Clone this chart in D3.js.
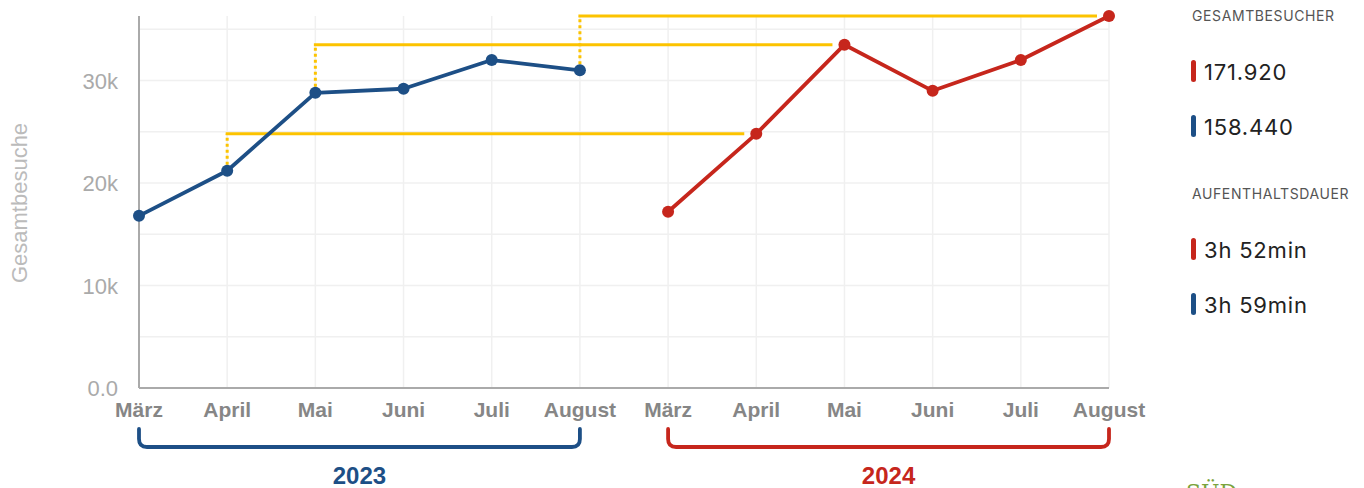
<!DOCTYPE html>
<html>
<head>
<meta charset="utf-8">
<script src="https://cdn.jsdelivr.net/npm/d3@7"></script>
<style>
  body { margin: 0; background: #fff; }
  svg { display: block; }
</style>
</head>
<body>
<script>
const months = ['März', 'April', 'Mai', 'Juni', 'Juli', 'August'];
const visits2023 = [16800, 21200, 28800, 29200, 32000, 31000];
const visits2024 = [17200, 24800, 33500, 29000, 32000, 36300];
// months with a yellow comparison line (2023 -> 2024 level)
const compareMonths = ['April', 'Mai', 'August'];
const yTicks = [0, 10000, 20000, 30000];
const legendVisitors = [['171.920', '2024'], ['158.440', '2023']];
const legendStay = [['3h 52min', '2024'], ['3h 59min', '2023']];

const colors = { '2023': '#1d4f86', '2024': '#c6261c' };
const yellow = '#fcc300';
const sans = 'Liberation Sans, Arial, sans-serif';

const width = 1364, height = 488;
const margin = { top: 16, left: 139, right: 255, bottom: 100 };

const svg = d3.select('body').append('svg')
  .attr('width', width)
  .attr('height', height);

const slots = months.map(m => '2023-' + m).concat(months.map(m => '2024-' + m));

const x = d3.scalePoint()
  .domain(slots)
  .range([margin.left, width - margin.right]);

const y = d3.scaleLinear()
  .domain([0, 36300])
  .range([height - margin.bottom, margin.top]);

// grid
const grid = svg.append('g').attr('stroke', '#f0f0f0').attr('stroke-width', 1.5);
grid.selectAll('line.h').data(d3.range(5000, 36000, 5000))
  .join('line')
  .attr('x1', margin.left).attr('x2', width - margin.right)
  .attr('y1', d => y(d)).attr('y2', d => y(d));
grid.selectAll('line.v').data(slots.slice(1))
  .join('line')
  .attr('x1', d => x(d)).attr('x2', d => x(d))
  .attr('y1', y.range()[1]).attr('y2', y(0));

// axes lines
svg.append('line')
  .attr('x1', margin.left).attr('x2', margin.left)
  .attr('y1', y.range()[1]).attr('y2', y(0))
  .attr('stroke', '#aaa').attr('stroke-width', 2);
svg.append('line')
  .attr('x1', margin.left).attr('x2', width - margin.right)
  .attr('y1', y(0)).attr('y2', y(0))
  .attr('stroke', '#aaa').attr('stroke-width', 2);

// y ticks
svg.append('g').selectAll('text').data(yTicks)
  .join('text')
  .attr('x', 118).attr('y', d => y(d) + 8)
  .attr('text-anchor', 'end')
  .attr('font-family', sans)
  .attr('font-size', 22)
  .attr('fill', '#aaa')
  .text(d => d === 0 ? '0.0' : d3.format('d')(d / 1000) + 'k');

svg.append('text')
  .attr('transform', 'translate(27,203) rotate(-90)')
  .attr('text-anchor', 'middle')
  .attr('font-family', sans)
  .attr('font-size', 22)
  .attr('fill', '#bbb')
  .text('Gesamtbesuche');

// x labels
svg.append('g').selectAll('text').data(slots)
  .join('text')
  .attr('x', d => x(d)).attr('y', 417)
  .attr('text-anchor', 'middle')
  .attr('font-family', sans)
  .attr('font-weight', 'bold')
  .attr('font-size', 21)
  .attr('fill', '#868686')
  .text(d => d.slice(5));

// yellow comparison lines
const cmp = svg.append('g').attr('stroke', yellow).attr('stroke-width', 3).attr('fill', 'none');
compareMonths.forEach(m => {
  const i = months.indexOf(m);
  const x0 = x('2023-' + m), x1 = x('2024-' + m);
  const yv = y(visits2024[i]);
  cmp.append('line')
    .attr('x1', x0).attr('x2', x0)
    .attr('y1', y(visits2023[i]) - 6).attr('y2', yv)
    .attr('stroke-dasharray', '3,3');
  cmp.append('line')
    .attr('x1', x0 - 1.5).attr('x2', x1 - 12)
    .attr('y1', yv).attr('y2', yv);
});

// series
const line = d3.line().x(d => x(d.k)).y(d => y(d.v));
[['2023', visits2023], ['2024', visits2024]].forEach(([yr, vals]) => {
  const pts = vals.map((v, i) => ({ k: yr + '-' + months[i], v }));
  svg.append('path')
    .datum(pts)
    .attr('d', line)
    .attr('fill', 'none')
    .attr('stroke', colors[yr])
    .attr('stroke-width', 3.8)
    .attr('stroke-linejoin', 'round');
  svg.append('g').selectAll('circle').data(pts)
    .join('circle')
    .attr('cx', d => x(d.k)).attr('cy', d => y(d.v))
    .attr('r', 6)
    .attr('fill', colors[yr]);
});

// year brackets
[['2023', months.map(m => '2023-' + m)], ['2024', months.map(m => '2024-' + m)]].forEach(([yr, ks]) => {
  const a = x(ks[0]), b = x(ks[ks.length - 1]);
  const top = 429, bot = 447, r = 8;
  svg.append('path')
    .attr('d', `M${a},${top} L${a},${bot - r} Q${a},${bot} ${a + r},${bot} L${b - r},${bot} Q${b},${bot} ${b},${bot - r} L${b},${top}`)
    .attr('fill', 'none')
    .attr('stroke', colors[yr])
    .attr('stroke-width', 3.8)
    .attr('stroke-linecap', 'round');
  svg.append('text')
    .attr('x', (a + b) / 2).attr('y', 484)
    .attr('text-anchor', 'middle')
    .attr('font-family', sans)
    .attr('font-weight', 'bold')
    .attr('font-size', 24)
    .attr('fill', colors[yr])
    .text(yr);
});

// legend
const lg = svg.append('g').attr('font-family', 'Inter, Roboto, sans-serif');
function legendBlock(title, rows, y0) {
  lg.append('text')
    .attr('x', 1192).attr('y', y0)
    .attr('font-size', 14)
    .attr('letter-spacing', 0.6)
    .attr('fill', '#555')
    .text(title);
  rows.forEach(([val, yr], i) => {
    const yy = y0 + 59 + 55 * i;
    lg.append('rect')
      .attr('x', 1191).attr('y', yy - 20)
      .attr('width', 5).attr('height', 22).attr('rx', 2.5)
      .attr('fill', colors[yr]);
    lg.append('text')
      .attr('x', 1204).attr('y', yy)
      .attr('font-size', 22)
      .attr('letter-spacing', 0.8)
      .attr('fill', '#222')
      .text(val);
  });
}
legendBlock('GESAMTBESUCHER', legendVisitors, 21);
legendBlock('AUFENTHALTSDAUER', legendStay, 199);

// partial logo at bottom right
svg.append('text')
  .attr('x', 1186).attr('y', 500)
  .attr('font-family', 'DejaVu Serif, serif')
  .attr('font-size', 22)
  .attr('fill', '#7aa33b')
  .text('SÜD');
</script>
</body>
</html>
